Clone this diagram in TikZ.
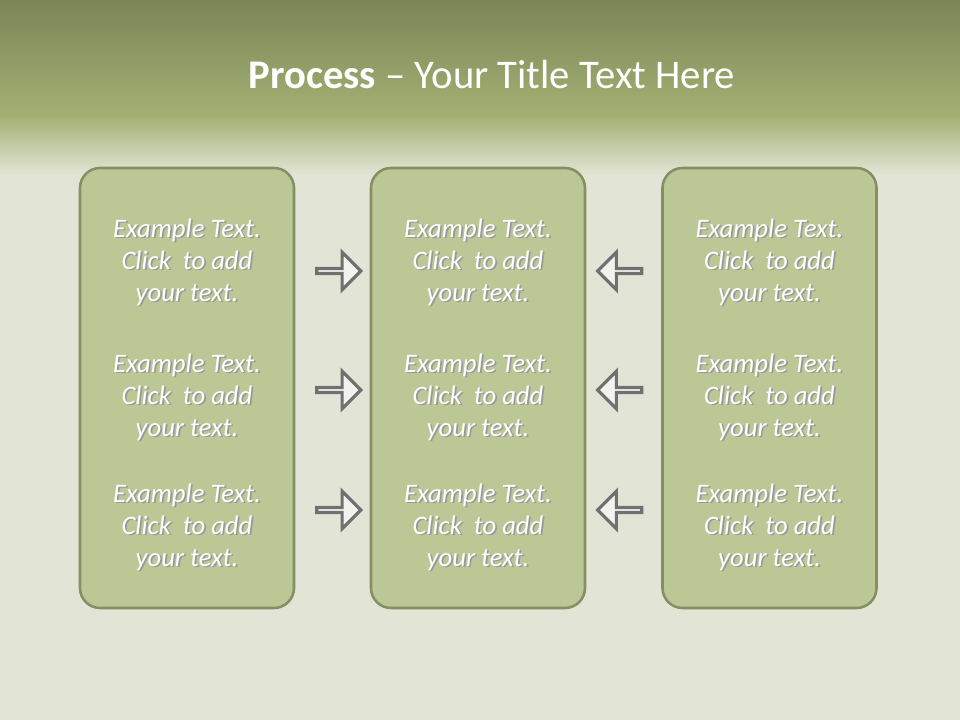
\documentclass[tikz,border=0pt]{standalone}
\usepackage{fontspec}
\setmainfont{Carlito}
\usetikzlibrary{positioning,shapes.arrows}
\definecolor{oliveTop}{RGB}{122,134,87}
\definecolor{oliveBand}{RGB}{162,176,115}
\definecolor{paleBack}{RGB}{226,229,213}
\definecolor{boxFill}{RGB}{188,199,150}
\definecolor{boxLine}{RGB}{134,142,100}
\definecolor{arrowLine}{RGB}{112,112,112}
\definecolor{arrowFill}{RGB}{242,242,238}
% white text with a soft dark drop shadow
\newcommand{\shline}[1]{\makebox[0pt][l]{\hspace{1.3pt}\raisebox{-1.3pt}{\textcolor{black!40}{#1}}}#1}

\begin{document}
\begin{tikzpicture}[x=0.75pt, y=-0.75pt,
        panel/.style={draw=boxLine, line width=1.9pt, fill=boxFill, rounded corners=15pt,
                      minimum width=160.5pt, minimum height=330pt},
        txt/.style={align=center, text=white, font=\fontsize{20}{24}\selectfont\itshape},
        blockarrow/.style={single arrow, draw=arrowLine, line width=2.4pt, fill=arrowFill,
                           minimum width=28pt, minimum height=33pt, single arrow head extend=7.5pt,
                           inner sep=0pt}
    ]
    \useasboundingbox (0,0) rectangle (960,720);
    % background
    \fill[paleBack] (0,0) rectangle (960,720);
    \shade[top color=oliveTop, bottom color=oliveBand] (0,0) rectangle (960,115);
    \shade[top color=oliveBand, bottom color=paleBack] (0,115) rectangle (960,175);

    \node[text=white, font=\fontsize{30.5}{36}\selectfont] (title) at (492,75)
        {\textbf{Process} – Your Title Text Here};

    \node[panel] (left) at (187,388) {};
    \node[panel] (mid) at (478,388) {};
    \node[panel] (right) at (769.5,388) {};

    \foreach \r/\ty/\ay in {1/263/271, 2/398/390, 3/528/510} {
        \node[txt] (l\r) at (187,\ty) {\shline{Example Text.}\\\shline{Click~ to add}\\\shline{your text.}};
        \node[txt] (m\r) at (478,\ty) {\shline{Example Text.}\\\shline{Click~ to add}\\\shline{your text.}};
        \node[txt] (r\r) at (769.5,\ty) {\shline{Example Text.}\\\shline{Click~ to add}\\\shline{your text.}};
        \node[blockarrow] (la\r) at (337.5,\ay) {};
        \node[blockarrow, shape border rotate=180] (ra\r) at (621,\ay) {};
    }
\end{tikzpicture}
\end{document}
